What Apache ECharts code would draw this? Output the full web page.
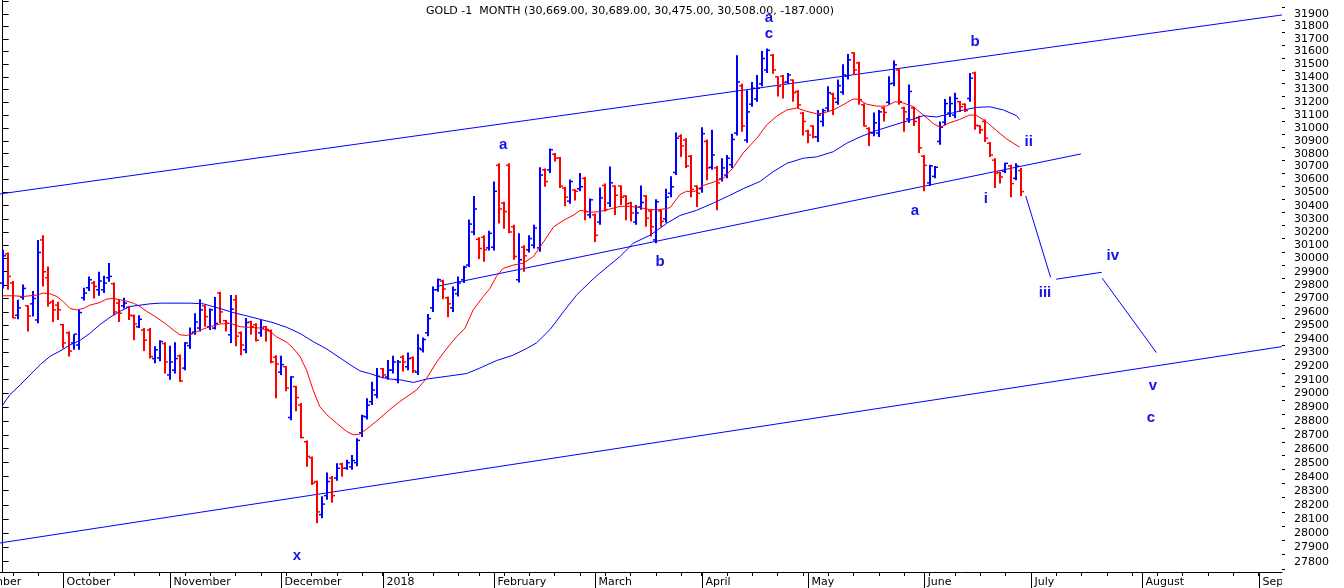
<!DOCTYPE html>
<html>
<head>
<meta charset="utf-8">
<script src="https://cdn.jsdelivr.net/npm/echarts@6/dist/echarts.min.js"></script>
<style>
  html, body { margin: 0; padding: 0; background: #fff; }
  #chart { width: 1344px; height: 588px; }
</style>
</head>
<body>
<div id="chart"></div>
<script>
// daily bars, index 0 = 14 Sep 2017 ... 201 = 28 Jun 2018
const opens = [29815,30035,29815,29575,29710,29645,29660,29540,30140,29855,29675,29650,29505,29445,29370,29355,29705,29780,29815,29765,
  29765,29855,29810,29665,29645,29635,29570,29490,29465,29465,29255,29260,29365,29135,29170,29275,29185,29350,29450,29480,
  29645,29490,29480,29740,29535,29430,29690,29445,29320,29525,29505,29445,29490,29460,29265,29155,29195,28825,29050,28915,
  28650,28535,28365,28130,28265,28390,28390,28490,28460,28470,28500,28715,28830,28940,28990,29180,29120,29170,29100,29265,
  29195,29260,29155,29320,29445,29630,29765,29830,29705,29630,29735,29840,29950,30200,30145,30160,30080,30085,30710,30420,
  30710,30240,29840,30085,30065,30100,30080,30675,30675,30795,30765,30535,30435,30520,30530,30610,30330,30330,30275,30555,
  30420,30550,30550,30475,30420,30275,30390,30475,30360,30140,30360,30300,30495,30655,30935,30905,30780,30550,30530,30895,
  30695,30690,30605,30635,30715,30960,31330,30905,31185,31225,31345,31455,31570,31400,31405,31360,31375,31285,31115,30975,
  31015,30930,31050,31155,31265,31200,31280,31405,31590,31510,31180,30995,30960,30960,31155,31200,31350,31455,31155,31070,
  31155,31080,30780,30575,30625,30895,31045,31115,31100,31205,31185,31230,31430,31015,31050,30880,30750,30655,30665,30705,
  30610,30669]
const highs = [30065,30045,29830,29690,29805,29650,29755,30140,30175,29940,29690,29675,29510,29455,29435,29615,29780,29865,29830,29900,
  29870,29965,29820,29690,29705,29640,29580,29575,29480,29480,29345,29390,29375,29350,29375,29285,29375,29485,29590,29695,
  29650,29625,29710,29750,29540,29725,29725,29455,29555,29535,29515,29540,29495,29470,29280,29275,29200,29125,29055,28930,
  28660,28545,28370,28260,28430,28405,28495,28500,28520,28555,28675,28845,28965,29085,29185,29185,29245,29275,29245,29280,
  29300,29270,29435,29410,29585,29790,29850,29840,29715,29790,29865,29945,30295,30475,30160,30175,30210,30585,30725,30430,
  30725,30255,30190,30100,30175,30255,30695,30685,30840,30805,30775,30545,30600,30525,30650,30620,30455,30340,30540,30570,
  30700,30555,30555,30480,30430,30405,30555,30480,30370,30450,30370,30530,30625,30965,30950,30920,30790,30555,31005,30910,
  30985,30705,30765,30790,30955,31570,31345,31295,31360,31415,31605,31625,31580,31405,31415,31430,31380,31295,31125,30985,
  31020,31140,31150,31325,31275,31380,31500,31580,31595,31520,31190,31005,31120,31140,31165,31405,31530,31470,31165,31340,
  31165,31095,30790,30715,30705,31050,31225,31245,31275,31210,31190,31430,31440,31020,31065,30890,30765,30660,30730,30715,
  30725,30689]
const lows = [29775,29765,29555,29545,29690,29455,29565,29515,29790,29640,29525,29540,29330,29270,29320,29320,29685,29755,29700,29720,
  29740,29825,29575,29525,29625,29540,29390,29480,29310,29255,29220,29235,29145,29100,29145,29085,29170,29325,29430,29455,
  29490,29465,29470,29515,29455,29370,29345,29280,29295,29430,29380,29415,29380,29220,28965,29135,29015,28805,28870,28675,
  28470,28340,28070,28105,28235,28215,28370,28400,28450,28450,28475,28685,28810,28915,28965,29110,29100,29145,29075,29160,
  29170,29150,29135,29300,29420,29600,29750,29695,29560,29600,29715,29815,29935,30175,29995,29975,30060,30060,30265,30225,
  30190,29990,29820,29900,30045,30075,30050,30545,30650,30740,30535,30395,30415,30440,30510,30290,30305,30125,30255,30355,
  30390,30330,30405,30290,30280,30255,30370,30240,30165,30115,30240,30270,30465,30635,30775,30690,30465,30390,30500,30595,
  30675,30365,30585,30610,30690,30940,30970,30885,31165,31205,31325,31430,31425,31245,31230,31345,31205,31155,30940,30880,
  30920,30890,31010,31125,31100,31180,31260,31380,31415,31180,31010,30860,30935,30930,31050,31180,31325,31180,30970,31040,
  31015,30805,30510,30550,30610,30870,31020,31085,31075,31125,31125,31205,30985,30955,30890,30775,30535,30570,30650,30465,
  30595,30475]
const closes = [30020,29865,29555,29630,29775,29570,29700,30045,29900,29665,29615,29615,29370,29310,29435,29595,29740,29840,29790,29830,
  29815,29865,29600,29590,29665,29575,29510,29545,29390,29270,29320,29380,29230,29230,29255,29090,29370,29440,29525,29615,
  29565,29615,29515,29600,29515,29620,29420,29355,29520,29490,29390,29480,29470,29230,29215,29210,29040,29120,28970,28680,
  28545,28355,28150,28205,28365,28265,28460,28460,28500,28515,28660,28835,28915,29025,29125,29135,29170,29230,29230,29230,
  29255,29165,29330,29395,29550,29765,29840,29770,29660,29765,29815,29935,30260,30375,30075,30065,30190,30510,30375,30355,
  30200,30015,29990,30020,30150,30230,30635,30585,30830,30765,30550,30465,30585,30510,30545,30355,30445,30175,30460,30370,
  30575,30480,30465,30415,30345,30345,30425,30305,30240,30430,30280,30465,30545,30920,30860,30705,30525,30495,30955,30690,
  30790,30575,30690,30765,30910,31360,31015,31125,31310,31310,31545,31610,31455,31325,31355,31415,31275,31180,31050,30945,
  30930,31100,31135,31275,31230,31330,31415,31535,31455,31220,31015,30965,31040,31125,31120,31345,31495,31205,31125,31285,
  31050,30845,30710,30705,30695,31005,31190,31190,31230,31165,31135,31390,31020,30985,30920,30790,30650,30620,30725,30570,
  30705,30508]

// moving averages: [bar index, price]
const redMaIdx = [0,2.1,4.1,6.7,8,9.3,10.7,12,13.3,14.6,15.9,17.2,19.2,20.5,21.8,23.2,24.5,25.8,27.1,28.4,29.7,31.1,32.4,33.7,35,36.3,37.6,39,
  40.9,42.9,44.9,46.9,48.8,50.8,52.8,54.1,56.1,57.4,58.7,60,61.3,62.6,64,65.9,67.9,69.2,70.5,72.5,74.5,76.5,78.4,81.7,83.7,85.7,87.7,
  89.6,91.3,92.9,94.9,96.2,97.5,98.8,100.8,102.8,104.8,106.8,108.8,110.8,112.8,114,116,117.9,119.9,121.9,123.9,125.8,127.8,129.8,
  131.8,133.7,135,136.7,138.3,140.3,142.3,144.2,146.2,148.9,150.9,152.8,154.8,156.8,158.7,160.7,162,164,165.9,167.9,168.9,170.6,
  172.6,174.5,176.2,177.8,179.8,181.8,183.7,185.1,187,188.9,190.9,192.2,194.3,196.2,198.2,200.8]
const redMa = [29720,29720,29715,29725,29740,29735,29715,29675,29625,29615,29625,29650,29670,29695,29700,29690,29680,29665,29640,29605,
  29575,29540,29505,29465,29430,29425,29440,29465,29490,29510,29515,29490,29485,29480,29455,29415,29375,29330,29270,29170,29025,
  28905,28845,28785,28725,28700,28705,28760,28820,28885,28940,29025,29110,29230,29330,29415,29480,29615,29715,29775,29865,29925,
  29950,29965,30015,30125,30240,30290,30330,30365,30350,30355,30375,30395,30395,30385,30370,30370,30385,30485,30510,30510,30555,
  30580,30610,30690,30805,30920,31025,31090,31140,31155,31130,31110,31115,31140,31180,31225,31225,31185,31170,31170,31205,31195,
  31165,31100,31035,31005,31040,31065,31100,31100,31045,30980,30915,30850]
const blueMaIdx = [0,1.4,3.4,5.4,7.4,9.3,11.3,13.3,15.3,17.2,19.2,21.2,23.2,25.1,27.1,29.1,31.1,37,39.6,42.9,45.5,48.2,50.8,53.4,56.1,
  58.7,61.3,64,66.6,68.6,70.5,72.5,74.5,76.5,78.4,81.1,83.7,87.7,91.6,94.2,97.5,100.8,103.5,105.4,108.1,110.7,113.3,116,117.9,
  121.9,124.5,127.8,131.1,133.7,137,140.3,143.6,146.2,149.5,152.1,154.8,158.1,160.7,164,166.6,169.3,172.6,175.8,179.1,181.8,
  184.4,187,189.7,192.3,194.9,197.6,200.2,200.8]
const blueMa = [28915,28990,29060,29135,29210,29270,29310,29355,29390,29440,29505,29560,29605,29640,29650,29660,29665,29665,29660,29625,
  29595,29570,29545,29520,29485,29440,29380,29325,29260,29210,29165,29145,29120,29105,29100,29080,29105,29125,29145,29185,29240,
  29280,29330,29370,29470,29600,29725,29825,29890,30015,30115,30175,30265,30325,30365,30420,30480,30530,30585,30660,30725,30765,
  30775,30815,30880,30930,30980,31020,31060,31095,31085,31110,31140,31160,31165,31140,31095,31065]

// drawn lines: [index1, price1, index2, price2]
const trendLines = [
  [-0.53, 30490, 252.6, 31892],
  [-0.53, 27931, 252.6, 29343],
  [85.7, 29790, 212.9, 30798],
  [202.0, 30475, 206.9, 29859],
  [208.0, 29844, 217.0, 29896],
  [217.1, 29851, 227.8, 29299]
]
const waveLabels = ['a', 'c', 'a', 'b', 'b', 'ii', 'a', 'i', 'iii', 'iv', 'v', 'c', 'x']
const waveIdx = [151.3, 151.3, 98.8, 129.8, 192.0, 202.6, 180.1, 194.1, 205.8, 219.2, 227.1, 226.7, 58.1]
const wavePrice = [31868, 31740, 30867, 29974, 31676, 30895, 30360, 30452, 29741, 30019, 29055, 28826, 27840]

const monthStarts = [-9, 12, 33, 55, 75, 97, 117, 138, 159, 182, 203, 225, 248]
const monthNames = ['September', 'October', 'November', 'December', '2018', 'February', 'March', 'April', 'May', 'June', 'July', 'August', 'September']
const weekTicks = [2,7,12,17,22,26,31,36,41,46,51,56,61,66,71,75,80,85,90,94,99,104,109,114,119,124,129,134,138,143,148,153,158,163,
  168,173,178,183,188,193,198,203,208,213,218,223,228,233,238,243,248]
const priceLabels = [27800,27900,28000,28100,28200,28300,28400,28500,28600,28700,28800,28900,29000,29100,29200,29300,29400,29500,
  29600,29700,29800,29900,30000,30100,30200,30300,30400,30500,30600,30700,30800,30900,31000,31100,31200,31300,31400,31500,31600,
  31700,31800,31900,32000]
const priceHalfTicks = [27750,27850,27950,28050,28150,28250,28350,28450,28550,28650,28750,28850,28950,29050,29150,29250,29350,29450,
  29550,29650,29750,29850,29950,30050,30150,30250,30350,30450,30550,30650,30750,30850,30950,31050,31150,31250,31350,31450,31550,
  31650,31750,31850,31950]

const X_MIN = -0.53, X_MAX = 252.6
const Y_MIN = 27728, Y_MAX = 32012
const FONT = 'DejaVu Sans'
const LINE_BLUE = '#0000ff'

const chart = echarts.init(document.getElementById('chart'))

const bars = opens.map((o, i) => [i, o, highs[i], lows[i], closes[i]])

function renderBar(params, api) {
  const i = api.value(0)
  const o = api.coord([i, api.value(1)])
  const h = api.coord([i, api.value(2)])
  const l = api.coord([i, api.value(3)])
  const c = api.coord([i, api.value(4)])
  const color = api.value(4) >= api.value(1) ? '#0000ff' : '#ff0000'
  const x = Math.round(o[0])
  return {
    type: 'group',
    children: [
      { type: 'line', shape: { x1: x, y1: h[1], x2: x, y2: l[1] }, style: { stroke: color, lineWidth: 2 } },
      { type: 'line', shape: { x1: x - 3, y1: o[1], x2: x, y2: o[1] }, style: { stroke: color, lineWidth: 1.5 } },
      { type: 'line', shape: { x1: x, y1: c[1], x2: x + 3, y2: c[1] }, style: { stroke: color, lineWidth: 1.5 } }
    ]
  }
}

function renderMonth(params, api) {
  const cs = params.coordSys
  const x = Math.round(api.coord([api.value(0), 0])[0]) + 0.5
  return {
    type: 'group',
    children: [
      { type: 'line', shape: { x1: x, y1: cs.y, x2: x, y2: cs.y + cs.height }, style: { stroke: '#000', lineWidth: 1 } },
      { type: 'text', x: x + 3, y: cs.y + 10, style: { text: monthNames[api.value(1)], font: '11px "' + FONT + '"', fill: '#000', verticalAlign: 'middle' } }
    ]
  }
}

function renderWave(params, api) {
  const p = api.coord([api.value(0), api.value(1)])
  return {
    type: 'text', x: p[0], y: p[1],
    style: {
      text: waveLabels[params.dataIndex], font: 'bold 15px "Liberation Sans"',
      fill: '#1414e6', align: 'center', verticalAlign: 'middle'
    }
  }
}

const lineSeries = trendLines.map(t => ({
  type: 'line',
  data: [[t[0], t[1]], [t[2], t[3]]],
  symbol: 'none',
  clip: true,
  lineStyle: { color: LINE_BLUE, width: 1 },
  z: 3
}))

const option = {
  animation: false,
  backgroundColor: '#ffffff',
  title: {
    text: 'GOLD -1  MONTH (30,669.00, 30,689.00, 30,475.00, 30,508.00, -187.000)',
    left: 421, top: 1,
    textStyle: { fontFamily: FONT, fontSize: 11, fontWeight: 'normal', color: '#000' }
  },
  grid: [
    { left: 0, top: 0, width: 1282, height: 572, outerBoundsMode: 'none' },
    { left: 0, top: 572, width: 1282, height: 16, outerBoundsMode: 'none' }
  ],
  xAxis: [
    {
      type: 'value', gridIndex: 0, min: X_MIN, max: X_MAX, position: 'bottom',
      axisLine: { show: true, onZero: false, lineStyle: { color: '#000', width: 1 } },
      axisTick: { show: true, length: 4, inside: false, customValues: weekTicks, lineStyle: { color: '#000' } },
      axisLabel: { show: false },
      splitLine: { show: false }
    },
    { type: 'value', gridIndex: 1, min: X_MIN, max: X_MAX, show: false }
  ],
  yAxis: [
    {
      type: 'log', logBase: 10, gridIndex: 0, min: Y_MIN, max: Y_MAX, position: 'right',
      axisLine: { show: true, lineStyle: { color: '#000', width: 1 } },
      axisTick: { show: true, length: 6, inside: false, customValues: priceLabels, lineStyle: { color: '#000' } },
      axisLabel: {
        show: true, customValues: priceLabels.filter(v => v <= 31900), margin: 12,
        fontFamily: FONT, fontSize: 11, color: '#000',
        formatter: v => String(Math.round(v))
      },
      splitLine: { show: false }
    },
    {
      type: 'log', logBase: 10, gridIndex: 0, min: Y_MIN, max: Y_MAX, position: 'right',
      axisLine: { show: false },
      axisTick: { show: true, length: 3, inside: false, customValues: priceHalfTicks, lineStyle: { color: '#000' } },
      axisLabel: { show: false },
      splitLine: { show: false }
    },
    { type: 'value', gridIndex: 1, min: 0, max: 1, show: false }
  ],
  series: [
    {
      type: 'custom', name: 'bars', xAxisIndex: 0, yAxisIndex: 0,
      renderItem: renderBar, data: bars, encode: { x: 0, y: [2, 3] }, z: 4
    },
    {
      type: 'line', data: redMaIdx.map((x, k) => [x, redMa[k]]), symbol: 'none',
      lineStyle: { color: '#ff0000', width: 1 }, z: 5
    },
    {
      type: 'line', data: blueMaIdx.map((x, k) => [x, blueMa[k]]), symbol: 'none',
      lineStyle: { color: '#0000ff', width: 1 }, z: 5
    },
    ...lineSeries,
    {
      type: 'custom', xAxisIndex: 0, yAxisIndex: 0,
      renderItem: renderWave, data: waveIdx.map((x, k) => [x, wavePrice[k]]), encode: { x: 0, y: 1 }, z: 6
    },
    {
      type: 'custom', xAxisIndex: 1, yAxisIndex: 2, clip: true,
      renderItem: renderMonth, data: monthStarts.map((s, k) => [s, k]), encode: { x: 0 }
    }
  ]
}

chart.setOption(option)
</script>
</body>
</html>
